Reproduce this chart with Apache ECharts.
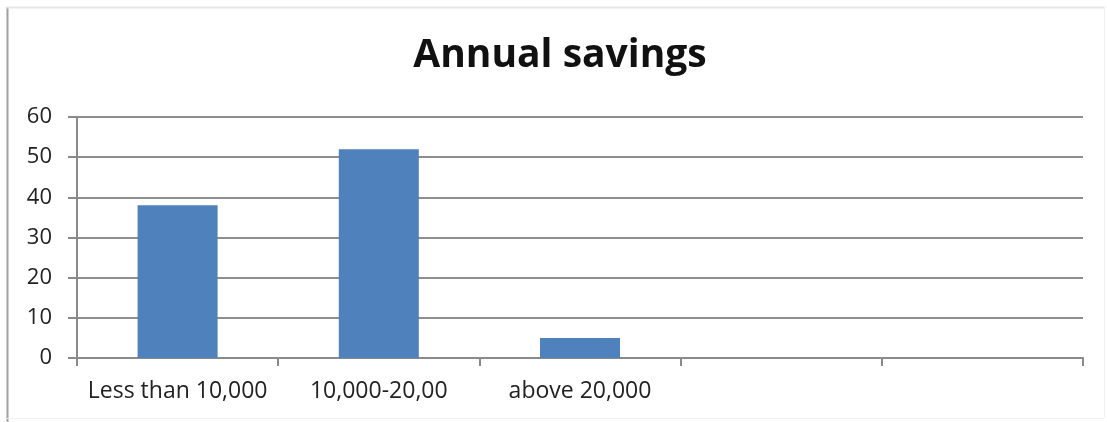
<!DOCTYPE html>
<html>
<head>
<meta charset="utf-8">
<script src="https://cdn.jsdelivr.net/npm/echarts@6/dist/echarts.min.js"></script>
<style>
html,body{margin:0;padding:0;background:#fff;}
#main{width:1107px;height:422px;}
</style>
</head>
<body>
<div id="main"></div>
<script>
const titleText = 'Annual savings';
const categories = ['Less than 10,000', '10,000-20,00', 'above 20,000', '', ''];
const savings = [38, 52, 5, null, null];
const yTicks = { min: 0, max: 60, interval: 10 };

const chart = echarts.init(document.getElementById('main'), null, { renderer: 'canvas' });
const font = '"Open Sans", "Noto Sans", sans-serif';
chart.setOption({
  animation: false,
  backgroundColor: '#ffffff',
  title: {
    text: titleText,
    left: 555,
    textAlign: 'center',
    top: 31,
    textStyle: { fontFamily: font, fontWeight: 'bold', fontSize: 39, color: '#111' }
  },
  graphic: [
    { type: 'line', shape: { x1: 7.5, y1: 7, x2: 7.5, y2: 422 }, style: { stroke: '#a0a0a0', lineWidth: 2 } },
    { type: 'line', shape: { x1: 7, y1: 7.5, x2: 1104, y2: 7.5 }, style: { stroke: '#e6e6e6', lineWidth: 2 } },
    { type: 'line', shape: { x1: 1104.5, y1: 7, x2: 1104.5, y2: 418 }, style: { stroke: '#f0f0f0', lineWidth: 1 } },
    { type: 'line', shape: { x1: 7, y1: 418.5, x2: 1104, y2: 418.5 }, style: { stroke: '#f0f0f0', lineWidth: 1 } }
  ],
  grid: { left: 77, right: 24, top: 117, bottom: 64, containLabel: false },
  xAxis: {
    type: 'category',
    data: categories,
    axisLine: { show: true, lineStyle: { color: '#8a8a8a', width: 2 } },
    axisTick: { show: true, length: 8, lineStyle: { color: '#8a8a8a', width: 2 } },
    axisLabel: { margin: 22, fontFamily: font, fontSize: 23, color: '#222', interval: 0 },
    splitLine: { show: false }
  },
  yAxis: {
    type: 'value',
    min: yTicks.min, max: yTicks.max, interval: yTicks.interval,
    axisLine: { show: true, lineStyle: { color: '#8a8a8a', width: 2 } },
    axisTick: { show: true, inside: false, length: 9, lineStyle: { color: '#8a8a8a', width: 2 } },
    axisLabel: { margin: 25, fontFamily: font, fontSize: 22, color: '#222' },
    splitLine: { show: true, lineStyle: { color: '#8e8e8e', width: 2 } }
  },
  series: [{
    type: 'bar',
    data: savings,
    barWidth: 80,
    itemStyle: { color: '#4f81bd' }
  }]
});
</script>
</body>
</html>
